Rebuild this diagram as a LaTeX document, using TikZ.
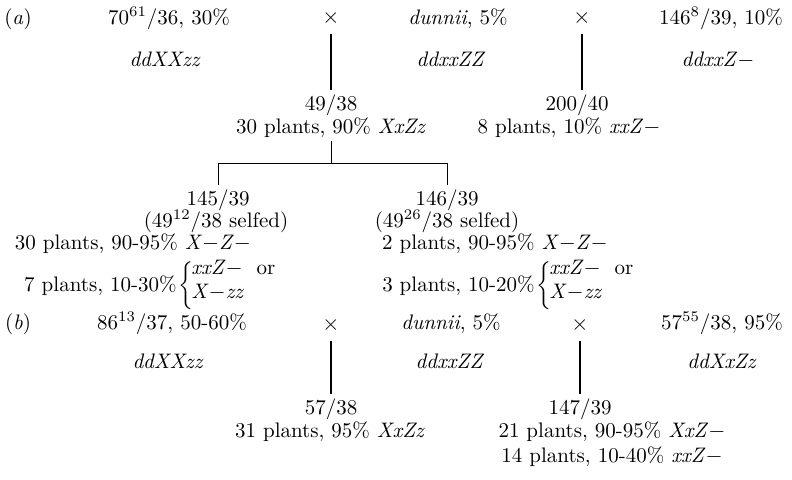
\documentclass[tikz,border=0pt]{standalone}
\usepackage{tikz}
\usetikzlibrary{positioning}

\newcommand{\gen}[1]{\textit{#1}}
\newcommand{\dsh}{\ensuremath{-}}

\begin{document}
\begin{tikzpicture}[
  x=0.5pt,y=-0.5pt,
  font=\fontsize{10.5}{12}\selectfont,
  txt/.style={anchor=base,inner sep=0pt,outer sep=2pt},
  rtxt/.style={anchor=base west,inner sep=0pt},
  cross/.style={inner sep=4pt},
  brc/.style={inner sep=0pt,anchor=west},
  ln/.style={line width=0.7pt},
  thin ln/.style={line width=0.45pt}
]
\useasboundingbox (0,0) rectangle (792,479);

% cross (a)
\node[txt] (laba) at (18,24) {(\textit{a})};
\node[txt] (pa1) at (169,24) {70\textsuperscript{61}/36, 30\%};
\node[cross] (xa1) at (331,18) {$\times$};
\node[txt] (pa2) at (458,24) {\textit{dunnii}, 5\%};
\node[cross] (xa2) at (582,18) {$\times$};
\node[txt] (pa3) at (721,24) {146\textsuperscript{8}/39, 10\%};
\node[txt] (ga1) at (165,66) {\gen{ddXXzz}};
\node[txt] (ga2) at (451,66) {\gen{ddxxZZ}};
\node[txt] (ga3) at (718,66) {\gen{ddxxZ}\dsh};

\node[txt] (fa1) at (331,110) {49/38};
\node[txt] (fa2) at (577,110) {200/40};
\node[txt] (na1) at (331,133) {30 plants, 90\% \gen{XxZz}};
\node[txt] (na2) at (569,133) {8 plants, 10\% \gen{xxZ}\dsh};

\node[txt] (sa1) at (218,205) {145/39};
\node[txt] (sa2) at (447,205) {146/39};
\node[txt] (sla) at (216,227) {(49\textsuperscript{12}/38 selfed)};
\node[txt] (slb) at (447,227) {(49\textsuperscript{26}/38 selfed)};
\node[txt] (ra1) at (133,249) {30 plants, 90-95\% \gen{X}\dsh\gen{Z}\dsh};
\node[txt] (rb1) at (495,249) {2 plants, 90-95\% \gen{X}\dsh\gen{Z}\dsh};

% either/or rows
\node[anchor=base east,inner sep=0pt] (ra2) at (177,291) {7 plants, 10-30\%};
\node[brc] (bra) at (178,286) {$\bigg\{$};
\node[rtxt] (ra3) at (191,274) {\gen{xxZ}\dsh\ \ or};
\node[rtxt] (ra4) at (191,298) {\gen{X}\dsh\gen{zz}};
\node[anchor=base east,inner sep=0pt] (rb2) at (535,291) {3 plants, 10-20\%};
\node[brc] (brb) at (536,286) {$\bigg\{$};
\node[rtxt] (rb3) at (549,274) {\gen{xxZ}\dsh\ \ or};
\node[rtxt] (rb4) at (549,298) {\gen{X}\dsh\gen{zz}};

\draw[ln] (xa1) -- (fa1);
\draw[ln] (xa2.south) -- (xa2.south |- fa2.north);
\coordinate (split) at (331,163);
\draw[thin ln] (na1.south) -- (split);
\draw[thin ln] (sa1.north) |- (split) -| (sa2.north);

% cross (b)
\node[txt] (labb) at (18,329) {(\textit{b})};
\node[txt] (pb1) at (172,329) {86\textsuperscript{13}/37, 50-60\%};
\node[cross] (xb1) at (331,325) {$\times$};
\node[txt] (pb2) at (451,329) {\textit{dunnii}, 5\%};
\node[cross] (xb2) at (580,325) {$\times$};
\node[txt] (pb3) at (722,329) {57\textsuperscript{55}/38, 95\%};
\node[txt] (gb1) at (168,368) {\gen{ddXXzz}};
\node[txt] (gb2) at (450,368) {\gen{ddxxZZ}};
\node[txt] (gb3) at (722,368) {\gen{ddXxZz}};

\node[txt] (fb1) at (331,414) {57/38};
\node[txt] (fb2) at (580,414) {147/39};
\node[txt] (nb1) at (330,437) {31 plants, 95\% \gen{XxZz}};
\node[txt] (nb2) at (612,437) {21 plants, 90-95\% \gen{XxZ}\dsh};
\node[txt] (nb3) at (612,462) {14 plants, 10-40\% \gen{xxZ}\dsh};

\draw[ln] (xb1) -- (fb1);
\draw[ln] (xb2) -- (fb2);
\end{tikzpicture}
\end{document}
